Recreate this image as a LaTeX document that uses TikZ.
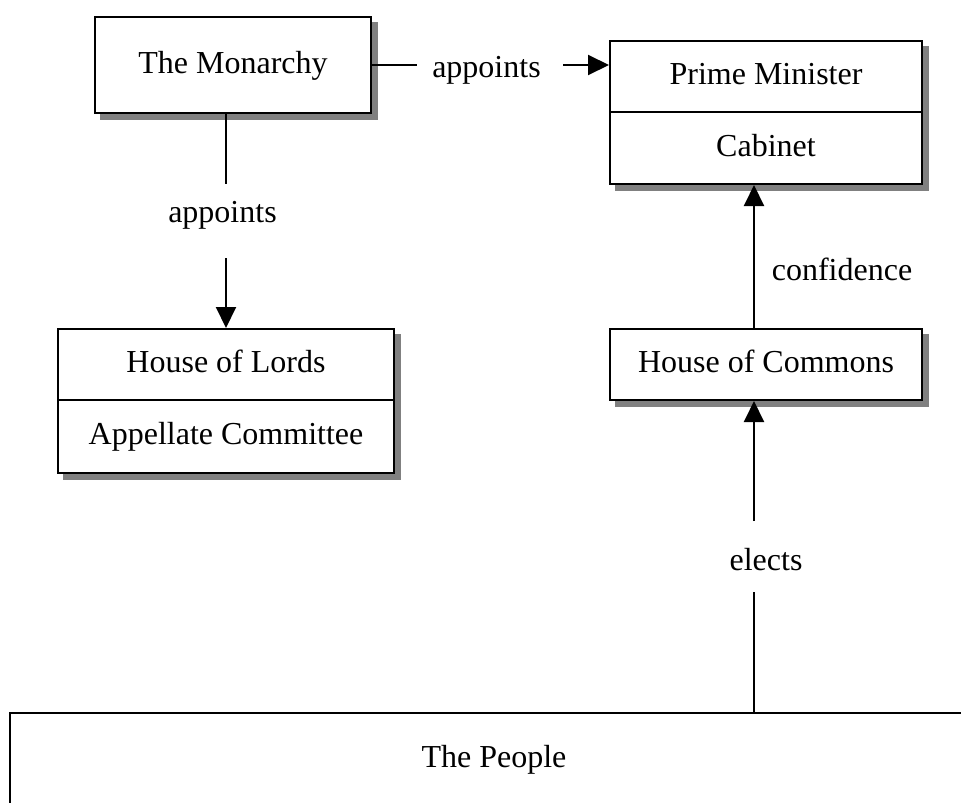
\documentclass[tikz,border=0pt]{standalone}
\usepackage{fontspec}
\setmainfont{Liberation Serif}
\usetikzlibrary{backgrounds,arrows.meta}
\begin{document}
\begin{tikzpicture}[x=1pt,y=-1pt,
  txt/.style={font=\fontsize{32}{38}\selectfont, text height=22pt, text depth=6pt},
  box/.style={txt, draw, line width=2pt, fill=white, inner sep=0pt},
  lbl/.style={txt, inner sep=0pt},
  link/.style={line width=2pt},
  tip/.style={line width=2pt, -{Triangle[length=21pt,width=20pt]}},
  shade/.style={fill=black!50}]
\useasboundingbox (0,0) rectangle (961,803);
\clip (0,0) rectangle (961,803);

% boxes
\node[box, minimum width=276pt, minimum height=96pt] (mon) at (233,65) {The Monarchy};
\node[box, minimum width=312pt, minimum height=71pt] (pmA) at (766,76.5) {Prime Minister};
\node[box, minimum width=312pt, minimum height=72pt] (pmB) at (766,148) {Cabinet};
\node[box, minimum width=336pt, minimum height=71pt] (lordsA) at (226,364.5) {House of Lords};
\node[box, minimum width=336pt, minimum height=73pt] (lordsB) at (226,436.5) {Appellate Committee};
\node[box, minimum width=312pt, minimum height=71pt] (hoc) at (766,364.5) {House of Commons};
\node[box, minimum width=968pt, minimum height=92pt] (people) at (494,759) {The People};

% drop shadows
\begin{scope}[on background layer]
  \fill[shade] ([shift={(5.5,5.5)}]mon.north west) rectangle ([shift={(5.5,5.5)}]mon.south east);
  \fill[shade] ([shift={(5.5,5.5)}]pmA.north west) rectangle ([shift={(5.5,5.5)}]pmB.south east);
  \fill[shade] ([shift={(5.5,5.5)}]lordsA.north west) rectangle ([shift={(5.5,5.5)}]lordsB.south east);
  \fill[shade] ([shift={(5.5,5.5)}]hoc.north west) rectangle ([shift={(5.5,5.5)}]hoc.south east);
\end{scope}

% labels
\node[lbl] (a1) at (486.5,69) {appoints};
\node[lbl] (a2) at (222.5,214) {appoints};
\node[lbl] (conf) at (842,272) {confidence};
\node[lbl] (el) at (766,562) {elects};

% gap ends of the broken connectors
\coordinate (h1) at (417,65);
\coordinate (h2) at (563,65);
\coordinate (v1) at (226,184);
\coordinate (v2) at (226,258);
\coordinate (e1) at (754,592);
\coordinate (e2) at (754,521);

% connectors
\draw[link] (mon.east) -- (h1);
\draw[tip] (h2) -- (pmA.west |- h2);
\draw[link] (mon.south -| v1) -- (v1);
\draw[tip] (v2) -- (lordsA.north);
\draw[tip] ([xshift=-12pt]hoc.north) -- ([xshift=-12pt]pmB.south);
\draw[link] (people.north -| e1) -- (e1);
\draw[tip] (e2) -- ([xshift=-12pt]hoc.south);
\end{tikzpicture}
\end{document}
